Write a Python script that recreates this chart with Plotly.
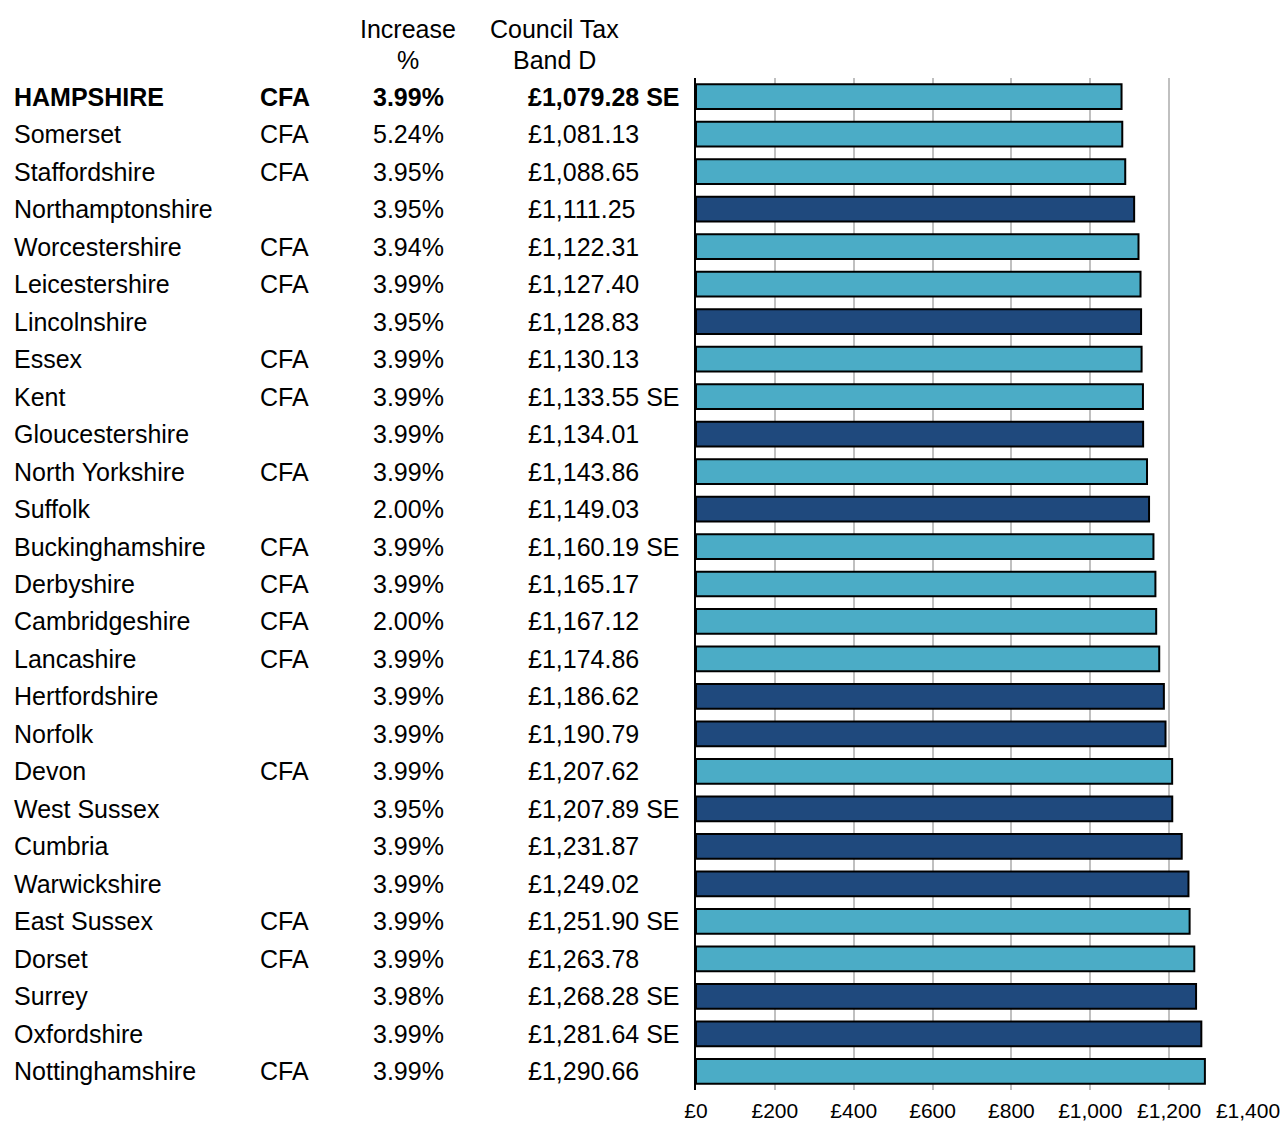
import plotly.graph_objects as go

names = ["HAMPSHIRE", "Somerset", "Staffordshire", "Northamptonshire", "Worcestershire",
         "Leicestershire", "Lincolnshire", "Essex", "Kent", "Gloucestershire",
         "North Yorkshire", "Suffolk", "Buckinghamshire", "Derbyshire", "Cambridgeshire",
         "Lancashire", "Hertfordshire", "Norfolk", "Devon", "West Sussex", "Cumbria",
         "Warwickshire", "East Sussex", "Dorset", "Surrey", "Oxfordshire", "Nottinghamshire"]
cfa = [True, True, True, False, True, True, False, True, True, False,
       True, False, True, True, True, True, False, False, True, False, False,
       False, True, True, False, False, True]
increase = [3.99, 5.24, 3.95, 3.95, 3.94, 3.99, 3.95, 3.99, 3.99, 3.99,
            3.99, 2.00, 3.99, 3.99, 2.00, 3.99, 3.99, 3.99, 3.99, 3.95, 3.99,
            3.99, 3.99, 3.99, 3.98, 3.99, 3.99]
band_d = [1079.28, 1081.13, 1088.65, 1111.25, 1122.31, 1127.40, 1128.83, 1130.13, 1133.55,
          1134.01, 1143.86, 1149.03, 1160.19, 1165.17, 1167.12, 1174.86, 1186.62, 1190.79,
          1207.62, 1207.89, 1231.87, 1249.02, 1251.90, 1263.78, 1268.28, 1281.64, 1290.66]
south_east = [True, False, False, False, False, False, False, False, True, False,
              False, False, True, False, False, False, False, False, False, True, False,
              False, True, False, True, True, False]
x_ticks = [0, 200, 400, 600, 800, 1000, 1200, 1400]
x_tick_labels = ["£0", "£200", "£400", "£600", "£800", "£1,000", "£1,200", "£1,400"]

LIGHT = "#4BACC6"
DARK = "#1F497D"
FONT = "Liberation Sans, Arial, sans-serif"

W, H = 1284, 1122
L, R, T, B = 696, 36, 78, 32
PW = W - L - R
PH = H - T - B

def px_x(p):
    return (p - L) / PW

def px_y(p):
    return (H - B - p) / PH

fig = go.Figure()
fig.add_trace(go.Bar(
    x=band_d, y=names, orientation="h",
    marker=dict(color=[LIGHT if c else DARK for c in cfa],
                line=dict(color="#000000", width=2)),
    width=0.66, hoverinfo="x+y",
))

FS = 25
ann = []
for i, n in enumerate(names):
    bold = (i == 0)
    def t(s):
        return f"<b>{s}</b>" if bold else s
    f = dict(family=FONT, size=FS, color="#000000")
    ann.append(dict(x=px_x(13), y=n, xref="paper", yref="y", text=t(n),
                    xanchor="left", yanchor="middle", showarrow=False, font=f, borderpad=0))
    if cfa[i]:
        ann.append(dict(x=px_x(259), y=n, xref="paper", yref="y", text=t("CFA"),
                        xanchor="left", yanchor="middle", showarrow=False, font=f, borderpad=0))
    ann.append(dict(x=px_x(408.5), y=n, xref="paper", yref="y", text=t(f"{increase[i]:.2f}%"),
                    xanchor="center", yanchor="middle", showarrow=False, font=f, borderpad=0))
    s = f"£{band_d[i]:,.2f}" + (" SE" if south_east[i] else "")
    ann.append(dict(x=px_x(527), y=n, xref="paper", yref="y", text=t(s),
                    xanchor="left", yanchor="middle", showarrow=False, font=f, borderpad=0))

hf = dict(family=FONT, size=FS, color="#000000")
ann.append(dict(x=px_x(408), y=px_y(29), xref="paper", yref="paper", text="Increase",
                xanchor="center", yanchor="middle", showarrow=False, font=hf))
ann.append(dict(x=px_x(408), y=px_y(60), xref="paper", yref="paper", text="%",
                xanchor="center", yanchor="middle", showarrow=False, font=hf))
ann.append(dict(x=px_x(554), y=px_y(29), xref="paper", yref="paper", text="Council Tax",
                xanchor="center", yanchor="middle", showarrow=False, font=hf))
ann.append(dict(x=px_x(554), y=px_y(60), xref="paper", yref="paper", text="Band D",
                xanchor="center", yanchor="middle", showarrow=False, font=hf))

fig.update_layout(
    width=W, height=H,
    margin=dict(l=L, r=R, t=T, b=B, pad=0, autoexpand=False),
    paper_bgcolor="white", plot_bgcolor="white",
    showlegend=False,
    annotations=ann,
    xaxis=dict(range=[0, 1400], tickvals=x_ticks, ticktext=x_tick_labels,
               showgrid=True, gridcolor="#C0C0C0", gridwidth=2,
               zeroline=False, showline=False, automargin=False,
               ticks="outside", ticklen=2, tickcolor="rgba(0,0,0,0)",
               tickfont=dict(family=FONT, size=21, color="#000000")),
    yaxis=dict(categoryorder="array", categoryarray=names, autorange="reversed",
               showticklabels=False, showgrid=False, zeroline=False, automargin=False,
               showline=True, linecolor="#000000", linewidth=2, ticks=""),
)

fig.write_html("out.html")
